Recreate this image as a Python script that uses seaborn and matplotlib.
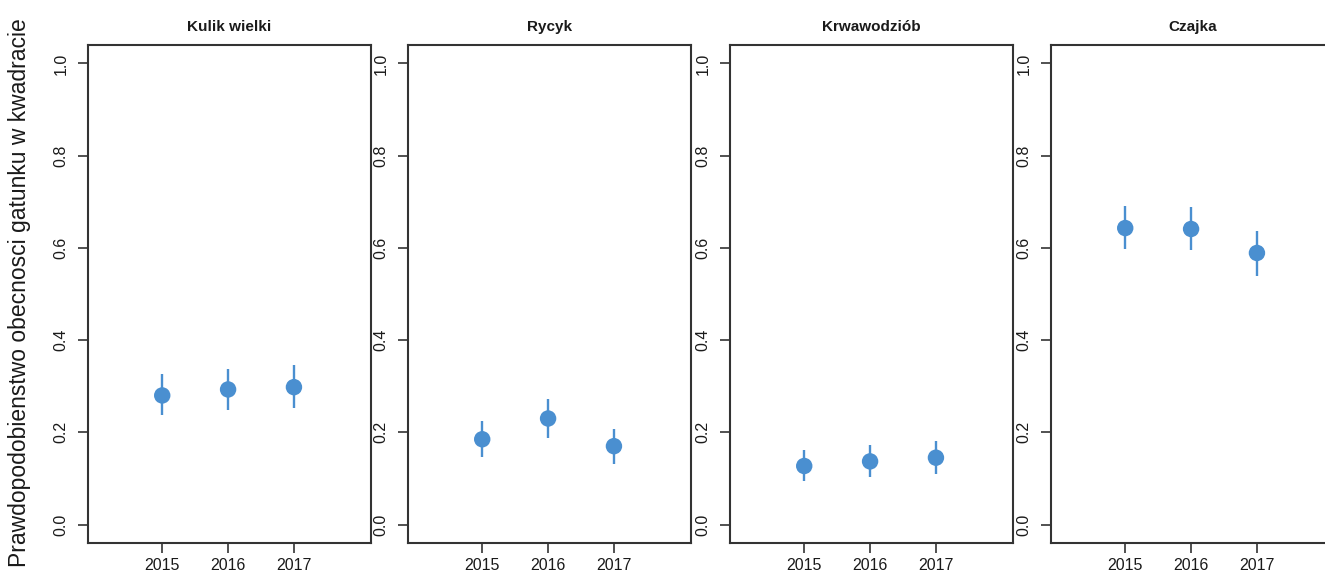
import pandas as pd
import numpy as np
import matplotlib
matplotlib.use("Agg")
import matplotlib.pyplot as plt
import seaborn as sns

# values
species = ['Kulik wielki', 'Rycyk', 'Krwawodziób', 'Czajka']
years = [2015, 2016, 2017]

kulik_mean = [0.280, 0.293, 0.298]
kulik_low = [0.237, 0.248, 0.253]
kulik_high = [0.326, 0.338, 0.345]

rycyk_mean = [0.185, 0.230, 0.170]
rycyk_low = [0.146, 0.188, 0.132]
rycyk_high = [0.225, 0.272, 0.208]

krwawodziob_mean = [0.127, 0.137, 0.145]
krwawodziob_low = [0.094, 0.103, 0.110]
krwawodziob_high = [0.161, 0.172, 0.181]

czajka_mean = [0.643, 0.641, 0.589]
czajka_low = [0.597, 0.595, 0.540]
czajka_high = [0.691, 0.688, 0.637]

y_ticks = [0.0, 0.2, 0.4, 0.6, 0.8, 1.0]
y_label = 'Prawdopodobienstwo obecnosci gatunku w kwadracie'

rows = []
for sp, m, lo, hi in zip(species,
                         [kulik_mean, rycyk_mean, krwawodziob_mean, czajka_mean],
                         [kulik_low, rycyk_low, krwawodziob_low, czajka_low],
                         [kulik_high, rycyk_high, krwawodziob_high, czajka_high]):
    for yr, a, b, c in zip(years, m, lo, hi):
        rows.append({'species': sp, 'year': yr, 'p': a, 'low': b, 'high': c})
df = pd.DataFrame(rows)

sns.set_style("ticks")
plt.rcParams['font.family'] = ['Liberation Sans', 'DejaVu Sans']

W, H = 1325, 573
fig = plt.figure(figsize=(W / 100, H / 100), dpi=100)

col = '#4a8fd0'
edge = '#333333'
txt = '#1a1a1a'
lefts = [88, 408, 730, 1051]
pw = 283
top, bottom = 45, 543

for sp, left in zip(species, lefts):
    ax = fig.add_axes([left / W, (H - bottom) / H, pw / W, (bottom - top) / H])
    d = df[df['species'] == sp]
    ax.vlines(d['year'], d['low'], d['high'], color=col, lw=1.7, zorder=2)
    sns.scatterplot(data=d, x='year', y='p', ax=ax, s=140, color=col,
                    edgecolor='none', linewidth=0, zorder=3)
    ax.set_xlim(2015 - 1.127, 2015 + 3.17)
    ax.set_ylim(-0.04, 1.04)
    ax.set_xticks(years)
    ax.set_xticklabels([str(y) for y in years], fontsize=11.5, color=txt)
    ax.set_yticks(y_ticks)
    ax.set_yticklabels([f'{t:.1f}' for t in y_ticks], fontsize=11.5,
                       rotation=90, va='center', color=txt)
    ax.tick_params(axis='both', length=7, width=1.2, color=edge, direction='out')
    ax.tick_params(axis='x', pad=4)
    ax.tick_params(axis='y', pad=7)
    for s in ax.spines.values():
        s.set_visible(True)
        s.set_color(edge)
        s.set_linewidth(1.5)
    ax.set_xlabel('')
    ax.set_ylabel('')
    ax.set_title(sp, fontsize=11, fontweight='bold', pad=10, color=txt)

fig.text(20 / W, 0.49, y_label, rotation=90, va='center', ha='center',
         fontsize=16.5, color=txt)

fig.savefig('out.png', dpi=100)
